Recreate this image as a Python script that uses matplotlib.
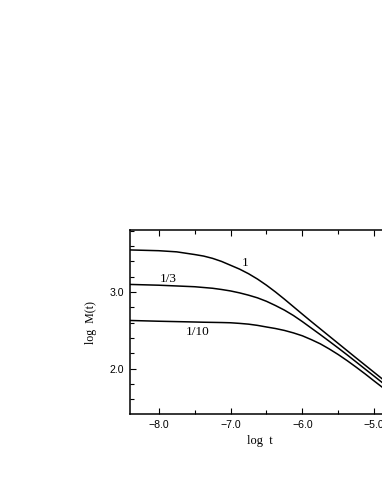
import matplotlib
matplotlib.use("Agg")
import matplotlib.pyplot as plt
from matplotlib.ticker import MultipleLocator, FuncFormatter

# log t grid
log_t = [-8.4, -8.0, -7.75, -7.5, -7.375, -7.25, -7.125, -7.0, -6.875, -6.75,
         -6.625, -6.5, -6.375, -6.25, -6.125, -6.0, -5.875, -5.75, -5.625,
         -5.5, -5.375, -5.25, -5.125, -5.0, -4.875, -4.75]
# log M(t) for each curve
m_1 = [3.55, 3.54, 3.525, 3.49, 3.47, 3.44, 3.40, 3.35, 3.30, 3.24,
       3.17, 3.09, 3.002, 2.908, 2.81, 2.712, 2.615, 2.52, 2.425,
       2.33, 2.235, 2.14, 2.046, 1.952, 1.858, 1.765]
m_1_3 = [3.10, 3.09, 3.08, 3.07, 3.06, 3.05, 3.034, 3.015, 2.99, 2.96,
         2.925, 2.88, 2.825, 2.765, 2.695, 2.615, 2.53, 2.445, 2.358,
         2.27, 2.18, 2.088, 1.995, 1.903, 1.81, 1.718]
m_1_10 = [2.63, 2.62, 2.615, 2.61, 2.607, 2.605, 2.603, 2.60, 2.592, 2.582,
          2.566, 2.545, 2.525, 2.50, 2.468, 2.43, 2.38, 2.325, 2.258,
          2.185, 2.105, 2.02, 1.932, 1.84, 1.75, 1.66]

curve_labels = ["1", "1/3", "1/10"]
label_x = [-6.80, -7.87, -7.46]
label_y = [3.375, 3.175, 2.48]

x_ticks = [-8.0, -7.0, -6.0, -5.0]
y_ticks = [2.0, 3.0]

fig = plt.figure(figsize=(3.82, 4.94), dpi=100)
ax = fig.add_axes([130/382, 1-414/494, 260/382, 184/494])

for ys in (m_1, m_1_3, m_1_10):
    ax.plot(log_t, ys, color="black", lw=1.1, solid_joinstyle="round",
            solid_capstyle="round")

for t, lx, ly in zip(curve_labels, label_x, label_y):
    ax.text(lx, ly, t, ha="center", va="center", fontsize=9.5,
            family="Liberation Serif")

fmt = FuncFormatter(lambda v, p: ("%.1f" % v).replace("-", "\u2212"))
ax.set_xlim(-8.4, -4.78)
ax.set_ylim(1.41, 3.81)
ax.set_xticks(x_ticks)
ax.set_yticks(y_ticks)
ax.xaxis.set_minor_locator(MultipleLocator(0.5))
ax.yaxis.set_minor_locator(MultipleLocator(0.2))
ax.xaxis.set_major_formatter(fmt)
ax.yaxis.set_major_formatter(fmt)
ax.tick_params(which="both", direction="in", top=True, right=True, width=0.8)
ax.tick_params(which="major", length=4.5, pad=4.5, labelsize=7.6)
ax.tick_params(which="minor", length=3)
for lab in ax.get_xticklabels() + ax.get_yticklabels():
    lab.set_family("Liberation Sans")
for s in ax.spines.values():
    s.set_linewidth(1.1)

fig.text(260/382, 1-441/494, "log  t", ha="center", va="center",
         fontsize=9, family="Liberation Serif")
fig.text(91/382, 1-322/494, "log  M(t)", ha="center", va="center",
         rotation=90, fontsize=8.6, family="Liberation Serif")

fig.savefig("out.png", dpi=100)
